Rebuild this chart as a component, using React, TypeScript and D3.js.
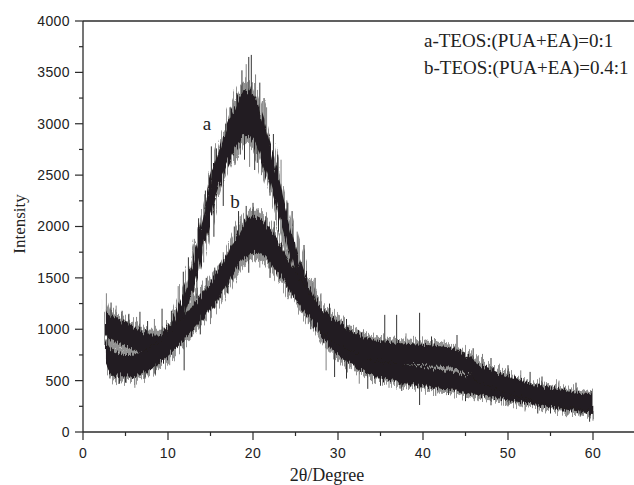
import React from 'react';
import * as d3 from 'd3';

// 2θ sample positions (degrees)
const degrees = [2.7, 3, 4, 5, 6, 7, 8, 9, 10, 11, 12, 13, 14, 15, 16, 17, 18, 19, 20, 21, 22, 23, 24, 25, 26, 27, 28, 29, 30, 31, 32, 33, 34, 35, 36, 37, 38, 39, 40, 41, 42, 43, 44, 45, 46, 47, 48, 49, 50, 51, 52, 53, 54, 55, 56, 57, 58, 59, 60];

// Series a: TEOS:(PUA+EA)=0:1  (centre of noisy band, and half-width of dense core)
const seriesACenter = [1080, 1030, 990, 950, 910, 870, 840, 840,
  900, 1060, 1270, 1560, 1900, 2260, 2560, 2790, 2980, 3110,
  3070, 2870, 2600, 2290, 1990, 1680, 1420, 1220, 1060, 950,
  870, 800, 740, 690, 650, 620, 600, 580, 565, 550,
  540, 530, 515, 505, 490, 470, 455, 440, 425, 410,
  395, 380, 365, 350, 335, 320, 305, 295, 285, 270,
  255];
const seriesASpread = [130, 120, 120, 115, 115, 110, 110, 110,
  110, 120, 130, 140, 155, 165, 175, 190, 205, 220,
  220, 205, 185, 170, 155, 145, 135, 130, 125, 120,
  115, 110, 105, 100, 100, 100, 95, 95, 95, 95,
  95, 95, 95, 90, 90, 90, 90, 85, 85, 85,
  85, 85, 80, 80, 80, 80, 80, 80, 80, 80,
  80];

// Series b: TEOS:(PUA+EA)=0.4:1
const seriesBCenter = [780, 720, 660, 640, 645, 675, 720, 780,
  850, 930, 1020, 1120, 1220, 1320, 1440, 1580, 1730, 1860,
  1920, 1900, 1810, 1690, 1560, 1430, 1300, 1190, 1090, 1020,
  960, 910, 870, 830, 800, 785, 775, 765, 760, 755,
  750, 745, 740, 730, 705, 665, 610, 560, 520, 490,
  460, 430, 405, 385, 365, 350, 335, 320, 305, 295,
  285];
const seriesBSpread = [130, 120, 115, 110, 110, 110, 110, 110,
  110, 110, 115, 120, 125, 130, 140, 150, 160, 170,
  175, 170, 160, 150, 140, 135, 130, 125, 120, 115,
  110, 105, 100, 100, 100, 100, 100, 100, 100, 100,
  100, 100, 95, 95, 95, 90, 90, 85, 85, 85,
  85, 85, 80, 80, 80, 80, 80, 80, 80, 80,
  80];

// Prominent noise spikes: [2θ, intensity]
const seriesASpikes: [number, number][] = [
  [2.75, 1350], [2.9, 780], [3.3, 1260], [3.9, 1230], [4.6, 1180], [5.4, 1150], [6.3, 1120], [6.7, 1170],
  [7.6, 1080], [8.4, 1100], [9.3, 1200], [10.4, 1180], [11.2, 1420], [11.8, 1560], [12.4, 1700], [13.1, 1880],
  [13.6, 2080], [14.4, 2350], [14.8, 2500], [15.1, 2780], [15.7, 2760], [16.2, 2850], [16.8, 3000], [17.3, 3160],
  [17.7, 3200], [18.1, 3300], [18.7, 3520], [19.2, 3580], [19.5, 3650], [19.8, 3670], [20.3, 3480], [20.8, 3400],
  [21.3, 3250], [21.6, 3160], [22.4, 2900], [22.9, 2700], [23.3, 2650], [24.1, 2230], [24.6, 2150], [25.2, 1950],
  [26.0, 1820], [27.3, 1500], [28.0, 1350],
  [12.0, 1000], [13.4, 1300], [14.2, 1650], [15.4, 1900], [16.5, 2200], [17.9, 2600], [18.5, 2700], [19.0, 2650],
  [19.6, 2580], [20.2, 2550], [20.5, 2620], [21.0, 2500], [22.0, 2300], [23.0, 1950], [24.0, 1700], [25.5, 1350],
  [26.8, 1000], [28.6, 600], [29.6, 535], [31.0, 520], [32.5, 470], [33.5, 420], [35.0, 450], [36.0, 430],
  [37.5, 400], [39.6, 263], [41.5, 350], [43.0, 360], [45.0, 300], [46.5, 300], [48.0, 260], [50.0, 250],
  [52.0, 200], [53.5, 180], [55.0, 180], [57.0, 160], [58.5, 150], [59.6, 100], [60, 110],
];
const seriesBSpikes: [number, number][] = [
  [2.75, 900], [11.0, 1100], [12.0, 1250], [13.0, 1350], [14.5, 1500], [15.5, 1600], [16.5, 1750], [17.8, 2000],
  [18.3, 2150], [18.5, 2100], [19.2, 2200], [20.0, 2230], [20.6, 2180], [21.5, 2100], [22.5, 2050], [23.4, 1950],
  [24.4, 1800], [25.5, 1650], [27.0, 1450], [29.0, 1250], [31.0, 1100], [33.0, 1000], [35.5, 1140], [36.9, 1140],
  [38.0, 960], [39.6, 1160], [41.0, 930], [42.5, 900], [44.0, 944], [45.9, 815], [47.0, 760], [48.0, 720],
  [50.0, 650], [51.5, 600], [52.6, 585], [54.0, 540], [56.0, 500], [58.0, 480], [59.8, 400],
  [3.2, 520], [4.3, 470], [5.0, 480], [6.1, 430], [7.3, 520], [8.5, 560], [10.2, 650], [11.9, 600],
  [13.8, 950], [15.0, 1050], [17.0, 1350], [19.5, 1550], [20.8, 1600], [22.0, 1500], [24.5, 1300], [26.5, 1050],
];

const xTicks = [0, 10, 20, 30, 40, 50, 60];
const xMinorTicks = [5, 15, 25, 35, 45, 55];
const yTicks = [0, 500, 1000, 1500, 2000, 2500, 3000, 3500, 4000];
const yMinorTicks = [250, 750, 1250, 1750, 2250, 2750, 3250, 3750];
const legendLines = ['a-TEOS:(PUA+EA)=0:1', 'b-TEOS:(PUA+EA)=0.4:1'];
const curveLabels = ['a', 'b'];
const xTitle = '2θ/Degree';
const yTitle = 'Intensity';

const W = 634;
const H = 485;
const CORE = '#231f20';
const FUZZ = '#939393';
const AXIS = '#2b2b2b';
const SANS = "'Liberation Sans', Arial, sans-serif";
const SERIF = "'Liberation Serif', 'Times New Roman', serif";

export default function App() {
  const x = d3.scaleLinear().domain([0, 65]).range([83, 635.5]);
  const y = d3.scaleLinear().domain([0, 4000]).range([432, 21]);

  const band = (centers: number[], spreads: number[], k: number) =>
    d3.area<number>()
      .x((_, i) => x(degrees[i]))
      .y0((c, i) => y(c - spreads[i] * k))
      .y1((c, i) => y(c + spreads[i] * k))
      .curve(d3.curveMonotoneX)(centers) || '';

  const centerAt = (centers: number[]) => d3.scaleLinear().domain(degrees).range(centers);

  const series = [
    { c: seriesACenter, s: seriesASpread, spikes: seriesASpikes, at: centerAt(seriesACenter) },
    { c: seriesBCenter, s: seriesBSpread, spikes: seriesBSpikes, at: centerAt(seriesBCenter) },
  ];

  return (
    <svg width={W} height={H} style={{ position: 'absolute', left: 0, top: 0, background: '#fff' }}>
      <defs>
        <filter id="jagOuter" x="-5%" y="-10%" width="110%" height="120%">
          <feTurbulence type="fractalNoise" baseFrequency="0.9 0.015" numOctaves={1} seed={3} result="n" />
          <feDisplacementMap in="SourceGraphic" in2="n" scale={22} xChannelSelector="R" yChannelSelector="G" />
        </filter>
        <filter id="jagCore" x="-5%" y="-10%" width="110%" height="120%">
          <feTurbulence type="fractalNoise" baseFrequency="0.7 0.02" numOctaves={1} seed={7} result="n" />
          <feDisplacementMap in="SourceGraphic" in2="n" scale={12} xChannelSelector="R" yChannelSelector="G" />
        </filter>
      </defs>
      <rect x={0} y={0} width={W} height={H} fill="#fff" />
      {/* fuzzy outer noise */}
      <g filter="url(#jagOuter)">
        {series.map((d, i) => (
          <path key={'f' + i} d={band(d.c, d.s, 1.4)} fill={FUZZ} />
        ))}
      </g>
      {/* spikes */}
      {series.map((d, i) => (
        <g key={'s' + i}>
          {d.spikes.map(([deg, v], j) => (
            <line key={j} x1={x(deg)} x2={x(deg)} y1={y(d.at(deg))} y2={y(v)}
              stroke={j % 3 === 0 ? '#808080' : '#333'} strokeWidth={1} />
          ))}
        </g>
      ))}
      {/* dense core */}
      <g filter="url(#jagCore)">
        {series.map((d, i) => (
          <path key={'c' + i} d={band(d.c, d.s, 1)} fill={CORE} />
        ))}
      </g>

      {/* axes */}
      <line x1={83} x2={W} y1={432} y2={432} stroke={AXIS} strokeWidth={1.3} />
      <line x1={83} x2={W} y1={21} y2={21} stroke={AXIS} strokeWidth={1.3} />
      <line x1={83} x2={83} y1={21} y2={432} stroke={AXIS} strokeWidth={1.3} />

      {yTicks.map(t => (
        <g key={'yt' + t}>
          <line x1={75} x2={83} y1={y(t)} y2={y(t)} stroke={AXIS} strokeWidth={1.2} />
          <text x={70} y={y(t)} dy="0.35em" textAnchor="end" fontFamily={SANS} fontSize={14}
            letterSpacing={0.4} fill="#222">{t}</text>
        </g>
      ))}
      {yMinorTicks.map(t => (
        <line key={'ym' + t} x1={79} x2={83} y1={y(t)} y2={y(t)} stroke={AXIS} strokeWidth={1.2} />
      ))}
      {xTicks.map(t => (
        <g key={'xt' + t}>
          <line x1={x(t)} x2={x(t)} y1={432} y2={440} stroke={AXIS} strokeWidth={1.2} />
          <text x={x(t)} y={458} textAnchor="middle" fontFamily={SANS} fontSize={14}
            letterSpacing={0.4} fill="#222">{t}</text>
        </g>
      ))}
      {xMinorTicks.map(t => (
        <line key={'xm' + t} x1={x(t)} x2={x(t)} y1={432} y2={436} stroke={AXIS} strokeWidth={1.2} />
      ))}

      <text x={327} y={481} textAnchor="middle" fontFamily={SERIF} fontSize={18} fill="#222">{xTitle}</text>
      <text transform="translate(25,224) rotate(-90)" textAnchor="middle" fontFamily={SERIF} fontSize={17}
        fill="#222">{yTitle}</text>

      {legendLines.map((l, i) => (
        <text key={l} x={424} y={47 + i * 27} fontFamily={SERIF} fontSize={19} fill="#222">{l}</text>
      ))}
      <text x={207} y={130} textAnchor="middle" fontFamily={SERIF} fontSize={19} fill="#222">{curveLabels[0]}</text>
      <text x={235} y={208} textAnchor="middle" fontFamily={SERIF} fontSize={19} fill="#222">{curveLabels[1]}</text>
    </svg>
  );
}
